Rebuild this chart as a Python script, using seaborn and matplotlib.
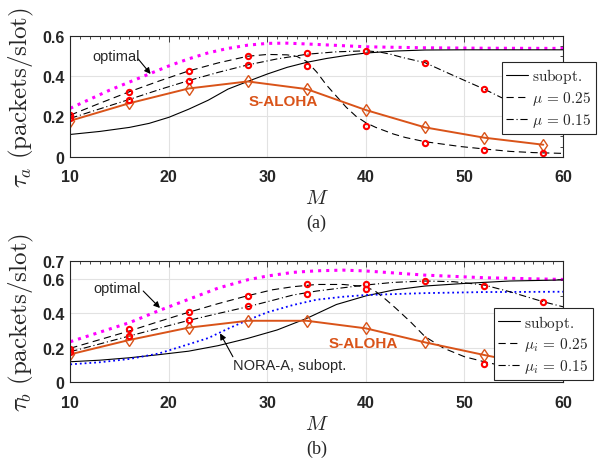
import numpy as np
import matplotlib
matplotlib.use("Agg")
import matplotlib.pyplot as plt
from matplotlib.lines import Line2D
from matplotlib.ticker import MultipleLocator
import seaborn as sns

# ---------------- data ----------------
M_sim = [10, 16, 22, 28, 34, 40, 46, 52, 58]

# (a) tau_a
M_opt_a = [10, 12, 14, 16, 18, 20, 22, 24, 26, 28, 30, 32, 34, 37, 40, 46, 52, 60]
opt_a = [0.24, 0.285, 0.33, 0.37, 0.41, 0.45, 0.485, 0.515, 0.537, 0.553, 0.562, 0.563,
         0.559, 0.552, 0.545, 0.54, 0.538, 0.537]

M_sub_a = [10, 13, 16, 18, 20, 22, 24, 26, 28, 30, 32, 34, 36, 38, 40, 43, 46, 50, 60]
sub_a = [0.11, 0.125, 0.145, 0.165, 0.195, 0.235, 0.28, 0.335, 0.373, 0.41, 0.443, 0.468,
         0.487, 0.502, 0.514, 0.524, 0.529, 0.53, 0.53]

M_mu25_a = [10, 13, 16, 19, 22, 25, 28, 30, 32, 33, 34, 35, 36, 37, 38, 39, 40, 41,
            42.8, 44, 46, 49.6, 52, 54.6, 57, 60]
mu25_a = [0.206, 0.265, 0.322, 0.375, 0.425, 0.465, 0.498, 0.507, 0.505, 0.497, 0.472,
          0.42, 0.355, 0.30, 0.245, 0.20, 0.168, 0.145, 0.112, 0.095, 0.074, 0.05, 0.038,
          0.026, 0.02, 0.016]

M_mu15_a = [10, 13, 16, 19, 22, 25, 28, 31, 34, 37, 40, 41.4, 42.5, 43.7, 46, 48.9, 52,
            53.7, 56, 58, 60]
mu15_a = [0.19, 0.237, 0.284, 0.332, 0.377, 0.418, 0.455, 0.485, 0.508, 0.52, 0.525,
          0.519, 0.508, 0.492, 0.466, 0.402, 0.335, 0.294, 0.25, 0.215, 0.185]

aloha_a = [0.178, 0.265, 0.338, 0.373, 0.335, 0.231, 0.145, 0.094, 0.059]
sim25_a = [0.206, 0.322, 0.425, 0.501, 0.451, 0.15, 0.066, 0.033, 0.016]
sim15_a = [0.19, 0.282, 0.377, 0.455, 0.512, 0.524, 0.464, 0.334, np.nan]

# (b) tau_b
M_opt_b = [10, 13, 16, 19, 22, 25, 28, 30, 32.6, 35, 37.7, 40, 43, 46, 52, 60]
opt_b = [0.235, 0.29, 0.345, 0.415, 0.48, 0.545, 0.593, 0.615, 0.636, 0.645, 0.649,
         0.644, 0.632, 0.62, 0.605, 0.595]

M_sub_b = [10, 13, 16, 19, 22, 25, 28, 31, 34, 37, 40, 42.8, 46, 50, 54.6, 60]
sub_b = [0.119, 0.128, 0.142, 0.16, 0.18, 0.212, 0.254, 0.303, 0.37, 0.45, 0.50, 0.534,
         0.557, 0.572, 0.586, 0.592]

M_nora_b = [10, 13, 16, 19, 22, 24, 26, 28, 30, 32.6, 35, 37.7, 40, 46, 52, 60]
nora_b = [0.104, 0.116, 0.135, 0.167, 0.22, 0.256, 0.31, 0.36, 0.405, 0.447, 0.478,
          0.495, 0.505, 0.516, 0.522, 0.524]

M_mu25_b = [10, 13, 16, 19, 22, 25, 28, 30.5, 32.6, 35, 37.7, 40, 41, 42, 43, 44.5, 46,
            47.9, 50, 52, 53, 56, 60]
mu25_b = [0.197, 0.247, 0.297, 0.352, 0.405, 0.455, 0.501, 0.535, 0.553, 0.566, 0.566,
          0.553, 0.525, 0.48, 0.43, 0.351, 0.264, 0.197, 0.148, 0.119, 0.106, 0.09, 0.075]

M_mu15_b = [10, 13, 16, 19, 22, 25, 28, 31, 32.6, 35, 37.7, 40, 42.8, 46, 48.9, 52, 54.6,
            58, 60]
mu15_b = [0.177, 0.222, 0.268, 0.313, 0.358, 0.398, 0.437, 0.481, 0.505, 0.528, 0.547,
          0.563, 0.578, 0.586, 0.582, 0.563, 0.524, 0.466, 0.437]

aloha_b = [0.162, 0.245, 0.316, 0.356, 0.356, 0.312, 0.231, 0.158, 0.09]
sim25_b = [0.195, 0.308, 0.407, 0.501, 0.568, 0.54, np.nan, 0.106, np.nan]
sim15_b = [0.178, 0.268, 0.36, 0.441, 0.513, 0.568, 0.586, 0.557, 0.466]

yticks_a = [0, 0.2, 0.4, 0.6]
yticks_b = [0, 0.2, 0.4, 0.6, 0.7]
xticks = [10, 20, 30, 40, 50, 60]

ORANGE = "#D95319"
MAGENTA = "#FF00FF"
BLUE = "#0000FF"
RED = "#FF0000"
DASH = (0, (6.5, 4))
DASHDOT = (0, (6.5, 2.5, 1, 2.5))

sns.set_style("whitegrid")
plt.rcParams["font.family"] = ["Liberation Sans", "DejaVu Sans"]
plt.rcParams["mathtext.fontset"] = "cm"

fig = plt.figure(figsize=(6.05, 4.64), dpi=100)
ax_a = fig.add_axes([0.1162, 0.6603, 0.8144, 0.2606])
ax_b = fig.add_axes([0.1162, 0.1739, 0.8144, 0.2608])


def line(ax, x, y, **kw):
    sns.lineplot(x=x, y=y, ax=ax, estimator=None, sort=False, legend=False, **kw)


def style_axes(ax, ylim, yticks, yminor, ylabel):
    ax.set_xlim(10, 60)
    ax.set_ylim(*ylim)
    ax.set_xticks(xticks)
    ax.set_xticklabels([str(t) for t in xticks])
    ax.set_yticks(yticks)
    ax.set_yticklabels(["0" if t == 0 else str(t) for t in yticks])
    ax.xaxis.set_minor_locator(MultipleLocator(1))
    ax.yaxis.set_minor_locator(MultipleLocator(yminor))
    ax.grid(True, which="major", color="#e2e2e2", lw=0.8)
    ax.grid(False, which="minor")
    ax.tick_params(which="both", direction="in", top=True, right=True, color="#262626",
                   labelsize=11.5, labelcolor="#262626")
    ax.tick_params(which="major", length=4, width=0.6)
    ax.tick_params(which="minor", length=2, width=0.6)
    ax.tick_params(axis="x", pad=9)
    ax.tick_params(axis="y", pad=4)
    for tl in ax.get_xticklabels() + ax.get_yticklabels():
        tl.set_fontweight("bold")
    for sp in ax.spines.values():
        sp.set_visible(True)
        sp.set_color("#262626")
        sp.set_linewidth(0.8)
    ax.set_ylabel(ylabel, fontsize=18, color="#262626")
    ax.yaxis.set_label_coords(-0.07, 0.5)
    ax.set_xlabel(r"$M$", fontsize=15, color="#262626")
    ax.xaxis.set_label_coords(0.5, -0.26)


def arrow(ax, tail, head):
    ax.annotate("", xy=head, xytext=tail,
                arrowprops=dict(arrowstyle="-|>", color="k", lw=0.8, mutation_scale=9,
                                shrinkA=0, shrinkB=0))


def markers(ax, y, marker, color, ms, mew):
    line(ax, M_sim, y, linestyle="none", marker=marker, markersize=ms,
         markerfacecolor="none", mec=color, mew=mew, color=color)


def legend(ax, labels, anchor):
    handles = [Line2D([], [], color="k", lw=0.8),
               Line2D([], [], color="k", lw=0.8, linestyle=DASH),
               Line2D([], [], color="k", lw=0.8, linestyle=DASHDOT)]
    leg = ax.legend(handles, labels, loc="upper left", bbox_to_anchor=anchor,
                    borderaxespad=0, fontsize=11, frameon=True, fancybox=False,
                    framealpha=1, edgecolor="#262626", handlelength=1.45,
                    handletextpad=0.25, labelspacing=0.25, borderpad=0.3)
    leg.get_frame().set_linewidth(0.8)


# ---------------- panel (a) ----------------
ax = ax_a
line(ax, M_opt_a, opt_a, color=MAGENTA, linewidth=2.2, linestyle=":")
line(ax, M_sub_a, sub_a, color="k", linewidth=0.8)
line(ax, M_mu25_a, mu25_a, color="k", linewidth=0.8, linestyle=DASH)
line(ax, M_mu15_a, mu15_a, color="k", linewidth=0.8, linestyle=DASHDOT)
line(ax, M_sim, aloha_a, color=ORANGE, linewidth=1.4)
markers(ax, aloha_a, "d", ORANGE, 6, 1.0)
markers(ax, sim25_a, "o", RED, 3.8, 1.5)
markers(ax, sim15_a, "o", RED, 3.8, 1.5)
style_axes(ax, (0, 0.6), yticks_a, 0.05, r"$\tau_a\ \mathrm{(packets/slot)}$")
ax.text(12.2, 0.50, "optimal", fontsize=10.5, va="center", ha="left")
arrow(ax, (16.9, 0.484), (18.15, 0.41))
ax.text(28.1, 0.277, "S-ALOHA", color=ORANGE, fontsize=11, fontweight="bold", va="center")
legend(ax, [r"$\mathrm{subopt.}$", r"$\mu\,=\,0.25$", r"$\mu\,=\,0.15$"], (0.8756, 0.785))

# ---------------- panel (b) ----------------
ax = ax_b
line(ax, M_opt_b, opt_b, color=MAGENTA, linewidth=2.2, linestyle=":")
line(ax, M_sub_b, sub_b, color="k", linewidth=0.8)
line(ax, M_nora_b, nora_b, color=BLUE, linewidth=1.3, linestyle=":")
line(ax, M_mu25_b, mu25_b, color="k", linewidth=0.8, linestyle=DASH)
line(ax, M_mu15_b, mu15_b, color="k", linewidth=0.8, linestyle=DASHDOT)
line(ax, M_sim, aloha_b, color=ORANGE, linewidth=1.4)
markers(ax, aloha_b, "d", ORANGE, 6, 1.0)
markers(ax, sim25_b, "o", RED, 3.8, 1.5)
markers(ax, sim15_b, "o", RED, 3.8, 1.5)
style_axes(ax, (0, 0.7), yticks_b, 0.1, r"$\tau_b\ \mathrm{(packets/slot)}$")
ax.text(12.3, 0.543, "optimal", fontsize=10.5, va="center", ha="left")
arrow(ax, (17.4, 0.528), (19.1, 0.43))
ax.text(26.5, 0.10, "NORA-A, subopt.", fontsize=10.5, va="center", ha="left")
arrow(ax, (26.5, 0.148), (25.2, 0.283))
ax.text(36.2, 0.225, "S-ALOHA", color=ORANGE, fontsize=11, fontweight="bold", va="center")
legend(ax, [r"$\mathrm{subopt.}$", r"$\mu_i\,=\,0.25$", r"$\mu_i\,=\,0.15$"], (0.859, 0.614))

fig.text(0.5234, 0.519, "(a)", family=["Liberation Serif", "DejaVu Serif"], fontsize=13,
         ha="center", va="center")
fig.text(0.5234, 0.032, "(b)", family=["Liberation Serif", "DejaVu Serif"], fontsize=13,
         ha="center", va="center")

fig.savefig("out.png", dpi=100)
